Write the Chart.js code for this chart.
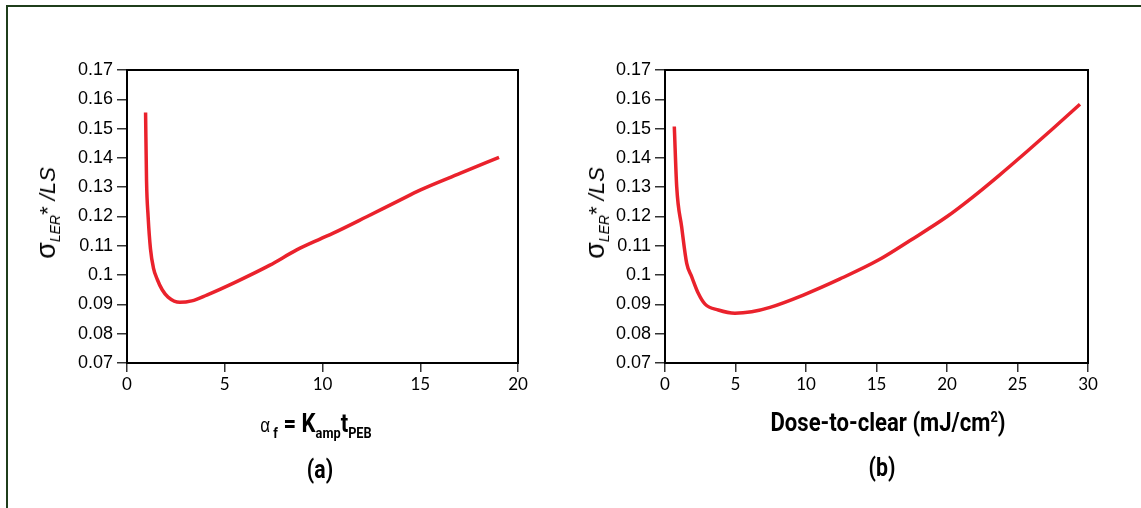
<!DOCTYPE html>
<html lang="en">
<head>
  <meta charset="UTF-8">
  <title>LER vs diffusion and dose-to-clear</title>
  <script src="https://cdn.jsdelivr.net/npm/chart.js"></script>
  <style>
    body { margin: 0; background: #fff; width: 1141px; height: 508px; position: relative; overflow: hidden; }
    .frame { position: absolute; left: 6px; top: 5px; right: -10px; bottom: -10px;
             border-top: 2.5px solid #1f3d1b; border-left: 2.5px solid #1f3d1b; }
    canvas { position: absolute; top: 0; }
    .lbl { position: absolute; transform: translate(-50%, -50%); white-space: nowrap; color: #000; }
    .xt { font-family: "Roboto", sans-serif; font-weight: bold; font-size: 26px; transform: translate(-50%, -50%) scaleX(0.85); }
    .xt sub { font-size: 15px; vertical-align: -6px; }
    .xt sup { font-size: 15px; vertical-align: 9px; }
    .cap { font-family: "Roboto", sans-serif; font-weight: bold; font-size: 25px; transform: translate(-50%, -50%) scaleX(0.85); }
    .yt { font-family: "Liberation Sans", Arial, sans-serif; font-size: 22px; transform: translate(-50%, -50%) rotate(-90deg); }
    .yt .sg { font-size: 27px; }
    .yt sub { font-size: 14px; font-style: italic; vertical-align: -5px; }
  </style>
</head>
<body>
  <div class="frame"></div>
  <canvas id="chartA" width="560" height="508" style="left:0"></canvas>
  <canvas id="chartB" width="581" height="508" style="left:560px"></canvas>

  <div class="lbl yt" style="left:47px; top:213px"><span class="sg">σ</span><sub>LER</sub>* <i>/LS</i></div>
  <div class="lbl yt" style="left:596px; top:213px"><span class="sg">σ</span><sub>LER</sub>* <i>/LS</i></div>
  <div class="lbl xt" style="left:316px; top:425px"><span style="font-weight:normal;font-family:'Liberation Sans',sans-serif;font-size:20px">α</span><sub> f</sub> = K<sub>amp</sub>t<sub>PEB</sub></div>
  <div class="lbl xt" style="left:888px; top:422px">Dose-to-clear (mJ/cm<sup>2</sup>)</div>
  <div class="lbl cap" style="left:320px; top:469px">(a)</div>
  <div class="lbl cap" style="left:882px; top:467px">(b)</div>

  <script>
    // (a) sigma_LER*/LS vs alpha_f = K_amp t_PEB
    const alphaF = [0.95, 1.0, 1.08, 1.2, 1.35, 1.55, 1.8, 2.1, 2.7, 3.31, 4.08, 5.61, 7.31, 8.68, 9.87, 10.55, 12.26, 13.96, 14.99, 17.03, 19.03];
    const lerA   = [0.1555, 0.1320, 0.1200, 0.1090, 0.1025, 0.0985, 0.0950, 0.0925, 0.0907, 0.0912, 0.0932, 0.0978, 0.1034, 0.1086, 0.1123, 0.1143, 0.1199, 0.1256, 0.1290, 0.1347, 0.1402];

    // (b) sigma_LER*/LS vs dose-to-clear
    const dose = [0.66, 0.83, 1.18, 1.54, 1.89, 2.36, 2.84, 3.78, 4.96, 6.15, 7.45, 9.81, 12.41, 15.2, 17.38, 19.98, 21.87, 23.64, 25.65, 27.54, 29.43];
    const lerB = [0.1507, 0.1302, 0.1165, 0.1040, 0.0995, 0.0938, 0.0901, 0.0881, 0.0870, 0.0875, 0.0890, 0.0932, 0.0987, 0.1053, 0.1118, 0.1199, 0.1268, 0.1338, 0.1421, 0.1501, 0.1583];

    const yMin = 0.07, yMax = 0.17, yStep = 0.01;
    const xStep = 5;

    // rahmen um die plotfläche
    const boxPlugin = {
      id: 'box',
      afterDraw(chart) {
        const a = chart.chartArea, ctx = chart.ctx;
        ctx.save();
        ctx.strokeStyle = '#000';
        ctx.lineWidth = 2;
        ctx.strokeRect(a.left, a.top, a.right - a.left, a.bottom - a.top);
        ctx.restore();
      }
    };

    function makeChart(id, xs, ys, xMax, padLeft, padRight) {
      const points = xs.map((x, i) => ({ x: x, y: ys[i] }));
      return new Chart(document.getElementById(id), {
        type: 'line',
        data: {
          datasets: [{
            data: points,
            borderColor: 'rgb(234, 34, 44)',
            borderWidth: 3.5,
            pointRadius: 0,
            fill: false,
            cubicInterpolationMode: 'monotone'
          }]
        },
        options: {
          responsive: false,
          animation: false,
          layout: { padding: { left: padLeft, right: padRight, top: 70, bottom: 115 } },
          plugins: { legend: { display: false }, tooltip: { enabled: false } },
          scales: {
            x: {
              type: 'linear',
              min: 0, max: xMax,
              afterFit: s => { s.height = 30; },
              ticks: { stepSize: xStep, color: '#000', padding: 2, font: { family: 'Lato', size: 17 } },
              grid: { drawOnChartArea: false, drawTicks: true, tickLength: 9, color: '#333', lineWidth: 1.5 },
              border: { display: true, color: '#000', width: 2 }
            },
            y: {
              min: yMin, max: yMax,
              afterFit: s => { s.width = 60; },
              ticks: {
                stepSize: yStep, color: '#000', padding: 4,
                font: { family: 'Liberation Sans', size: 18 },
                callback: v => String(Number(v.toFixed(2)))
              },
              grid: { drawOnChartArea: false, drawTicks: true, tickLength: 10, color: '#333', lineWidth: 1.5 },
              border: { display: true, color: '#000', width: 2 }
            }
          }
        },
        plugins: [boxPlugin]
      });
    }

    makeChart('chartA', alphaF, lerA, 20, 67, 42);
    makeChart('chartB', dose, lerB, 30, 45, 53);
  </script>
</body>
</html>
